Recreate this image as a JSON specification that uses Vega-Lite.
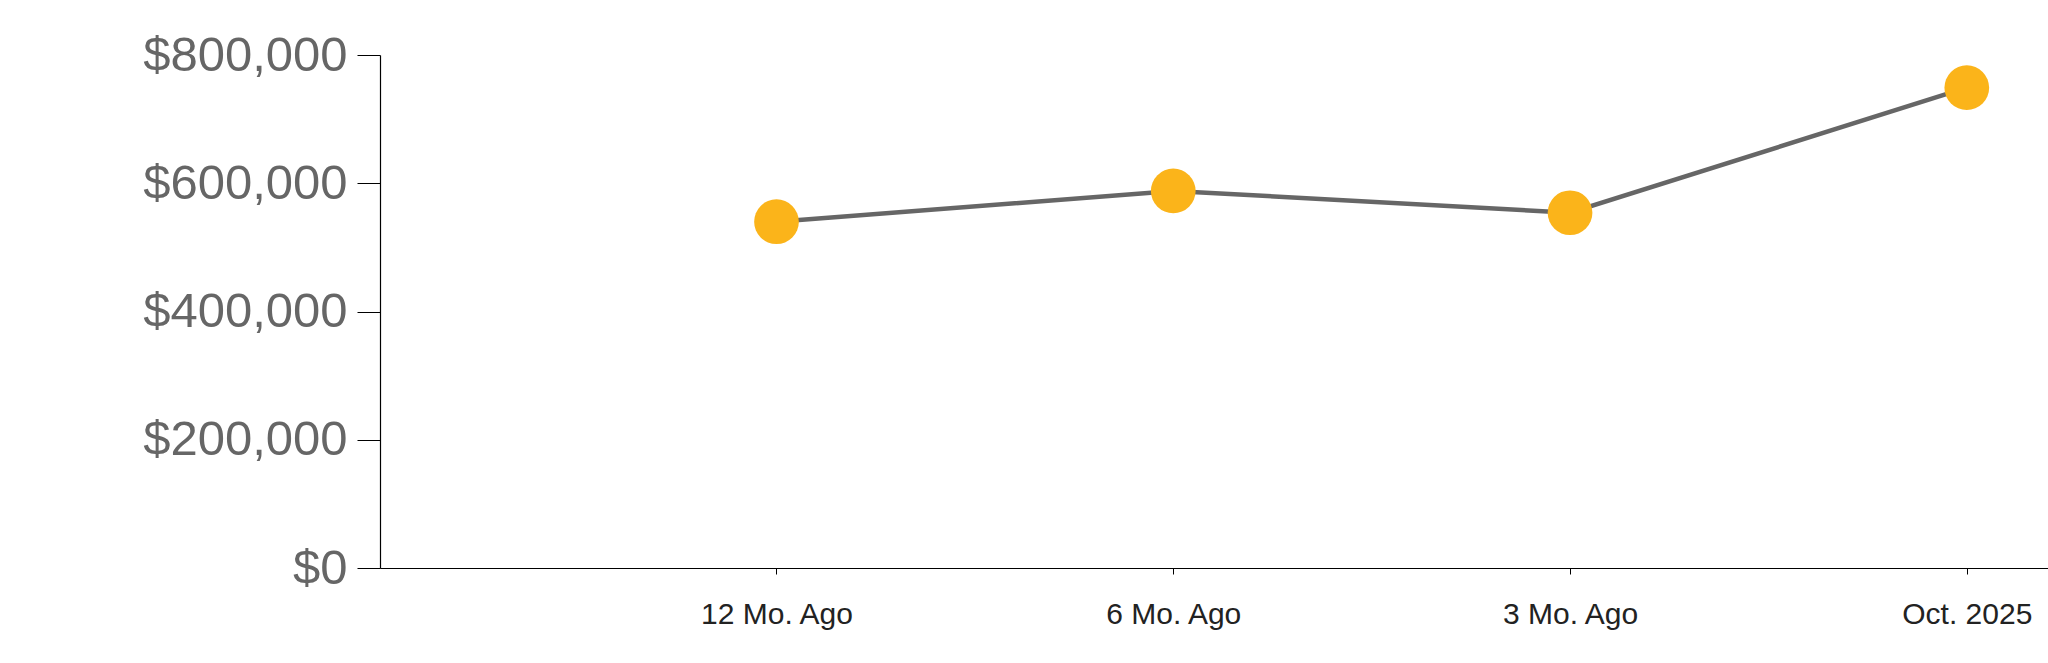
{
  "$schema": "https://vega.github.io/schema/vega-lite/v6.json",
  "width": 1668,
  "height": 513,
  "autosize": {"type": "none"},
  "padding": {"left": 380, "top": 55, "right": 0, "bottom": 95},
  "background": "white",
  "config": {"view": {"stroke": null}},
  "data": {
    "values": [
      {"period": "12 Mo. Ago", "value": 540000},
      {"period": "6 Mo. Ago", "value": 588000},
      {"period": "3 Mo. Ago", "value": 554000},
      {"period": "Oct. 2025", "value": 749000}
    ]
  },
  "encoding": {
    "x": {
      "field": "period",
      "type": "ordinal",
      "sort": null,
      "scale": {"type": "point", "padding": 0.602, "align": 0.83},
      "axis": {
        "title": null,
        "labelAngle": 0,
        "labelFont": "Liberation Sans",
        "labelFontSize": 30,
        "labelColor": "#222222",
        "labelPadding": 25,
        "labelLimit": 0,
        "tickSize": 6,
        "tickColor": "#000000",
        "domainColor": "#000000",
        "domainWidth": 1.2,
        "grid": false
      }
    },
    "y": {
      "field": "value",
      "type": "quantitative",
      "scale": {"domain": [0, 800000], "nice": false},
      "axis": {
        "title": null,
        "values": [0, 200000, 400000, 600000, 800000],
        "format": "$,.0f",
        "labelFont": "Liberation Sans",
        "labelFontSize": 49,
        "labelColor": "#666666",
        "labelPadding": 10,
        "labelLimit": 0,
        "tickSize": 23,
        "tickColor": "#000000",
        "domainColor": "#000000",
        "domainWidth": 1.2,
        "grid": false
      }
    }
  },
  "layer": [
    {"mark": {"type": "line", "color": "#666666", "strokeWidth": 4.5}},
    {"mark": {"type": "circle", "color": "#FBB41A", "opacity": 1, "size": 2000}}
  ]
}
